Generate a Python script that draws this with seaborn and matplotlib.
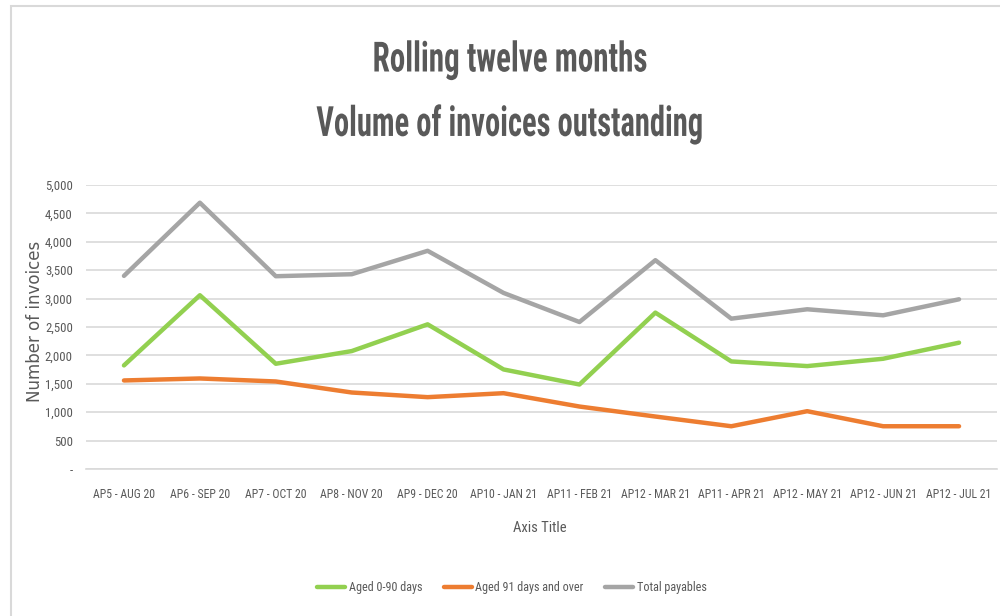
import os
import matplotlib
matplotlib.use("Agg")
import matplotlib.pyplot as plt
import seaborn as sns
import pandas as pd
from matplotlib import font_manager as fm
from matplotlib.patches import Rectangle
from matplotlib.patheffects import AbstractPathEffect
from matplotlib.transforms import Affine2D

periods = ["AP5 - AUG 20", "AP6 - SEP 20", "AP7 - OCT 20", "AP8 - NOV 20", "AP9 - DEC 20",
           "AP10 - JAN 21", "AP11 - FEB 21", "AP12 - MAR 21", "AP11 - APR 21",
           "AP12 - MAY 21", "AP12 - JUN 21", "AP12 - JUL 21"]
aged_0_90 = [1824, 3059, 1853, 2076, 2547, 1753, 1488, 2753, 1894, 1812, 1941, 2224]
aged_91_plus = [1559, 1594, 1541, 1347, 1265, 1335, 1100, 924, 753, 1018, 753, 753]
total_payables = [3400, 4688, 3394, 3429, 3841, 3100, 2588, 3676, 2647, 2812, 2706, 2988]
series_names = ["Aged 0-90 days", "Aged 91 days and over", "Total payables"]
colors = ["#92D050", "#ED7D31", "#A5A5A5"]
y_ticks = [0, 500, 1000, 1500, 2000, 2500, 3000, 3500, 4000, 4500, 5000]
y_tick_labels = ["-", "500", "1,000", "1,500", "2,000", "2,500", "3,000", "3,500", "4,000", "4,500", "5,000"]
title_lines = ["Rolling twelve months", "Volume of invoices outstanding"]

df = pd.concat([
    pd.DataFrame({"period": periods, "value": vals, "series": name})
    for name, vals in zip(series_names, [aged_0_90, aged_91_plus, total_payables])
], ignore_index=True)
df["pos"] = df.groupby("series").cumcount()


def pick_font(bold):
    files = sorted({f.fname for f in fm.fontManager.ttflist})
    low = {p: os.path.basename(p).lower() for p in files}
    if bold:
        prefs = ["liberationsansnarrow-bold.", "robotocondensed-bold.", "opensans_condensed-bold.",
                 "opensanscondensed-bold.", "notosans-condensedbold.", "dejavusanscondensed-bold."]
    else:
        prefs = ["liberationsansnarrow-regular.", "robotocondensed-regular.", "opensans_condensed-regular.",
                 "opensanscondensed-regular.", "notosans-condensed.", "notosans-condensedregular.",
                 "dejavusanscondensed."]
    for key in prefs:
        for p, n in low.items():
            if n.startswith(key):
                return p
    for p, n in low.items():
        if ("condensed" in n or "narrow" in n) and "italic" not in n and "oblique" not in n:
            if bold == ("bold" in n) and "semi" not in n and "extra" not in n and "light" not in n:
                return p
    return None


reg_path = pick_font(False)
bold_path = pick_font(True)


def fp(size, bold=False):
    path = bold_path if bold else reg_path
    if path:
        return fm.FontProperties(fname=path, size=size)
    return fm.FontProperties(family="DejaVu Sans", size=size * 0.85,
                             weight="bold" if bold else "normal")


class Stretch(AbstractPathEffect):
    def __init__(self, sx=1.0, sy=1.0):
        super().__init__()
        self.sx, self.sy = sx, sy

    def draw_path(self, renderer, gc, tpath, affine, rgbFace=None):
        ext = affine.transform_path(tpath).get_extents()
        cx = (ext.x0 + ext.x1) / 2
        cy = (ext.y0 + ext.y1) / 2
        new = affine + Affine2D().translate(-cx, -cy).scale(self.sx, self.sy).translate(cx, cy)
        renderer.draw_path(gc, tpath, new, rgbFace)


sns.set_theme(style="white")
plt.rcParams["font.family"] = ["DejaVu Sans"]

fig = plt.figure(figsize=(10, 6.16), dpi=100)
ax = fig.add_axes([0.086, 0.2386, 0.911, 0.4611])

fig.patches.append(Rectangle((11 / 1000, -0.1), 1.2, 1 - 6 / 616 + 0.1, transform=fig.transFigure,
                             fill=False, edgecolor="#D9D9D9", linewidth=1.5, zorder=0))

sns.lineplot(data=df, x="pos", y="value", hue="series", palette=colors,
             hue_order=series_names, linewidth=3.2, ax=ax, legend=False, sort=False)

ax.set_xlim(-0.5, len(periods) - 0.5)
ax.set_ylim(0, 5000)
ax.set_yticks(y_ticks)
ax.set_yticklabels(y_tick_labels)
ax.set_xticks(range(len(periods)))
ax.set_xticklabels(periods)
ax.grid(axis="y", color="#D9D9D9", linewidth=1.2)
ax.set_axisbelow(True)
for s in ["top", "right", "left"]:
    ax.spines[s].set_visible(False)
ax.spines["bottom"].set_color("#D9D9D9")
ax.spines["bottom"].set_linewidth(1.2)
ax.tick_params(axis="both", length=0, colors="#595959")
ax.tick_params(axis="x", pad=14)
ax.tick_params(axis="y", pad=9.5)
for lbl in ax.get_xticklabels():
    lbl.set_fontproperties(fp(8.5))
for lbl in ax.get_yticklabels():
    lbl.set_fontproperties(fp(9.2))

ax.set_xlabel("Axis Title", fontproperties=fp(10.5), color="#595959")
ax.xaxis.set_label_coords((540 - 86) / 911, (469 - 528) / 284)
ax.xaxis.label.set_va("center")
ax.set_ylabel("Number of invoices", fontsize=12, color="#595959", family="DejaVu Sans")
ax.yaxis.set_label_coords((35 - 86) / 911, (469 - 321) / 284)
ax.yaxis.label.set_va("center")

renderer = fig.canvas.get_renderer()
title_y = [60, 124]
title_w = [275, 387]
for line, yy, target in zip(title_lines, title_y, title_w):
    t = fig.text(0.51, 1 - yy / 616, line, ha="center", va="center",
                 fontproperties=fp(30, bold=True), color="#595959")
    w = t.get_window_extent(renderer).width
    t.set_path_effects([Stretch(sx=min(1.0, target / w), sy=1.0)])

handles = [plt.Line2D([0], [0], color=c, lw=3.2) for c in colors]
fig.legend(handles, series_names, loc="center", bbox_to_anchor=(0.512, 1 - 588 / 616),
           ncol=3, frameon=False, prop=fp(8.7), handlelength=2.3, columnspacing=1.8,
           handletextpad=0.3, labelcolor="#595959")

fig.savefig("out.png", dpi=100)
